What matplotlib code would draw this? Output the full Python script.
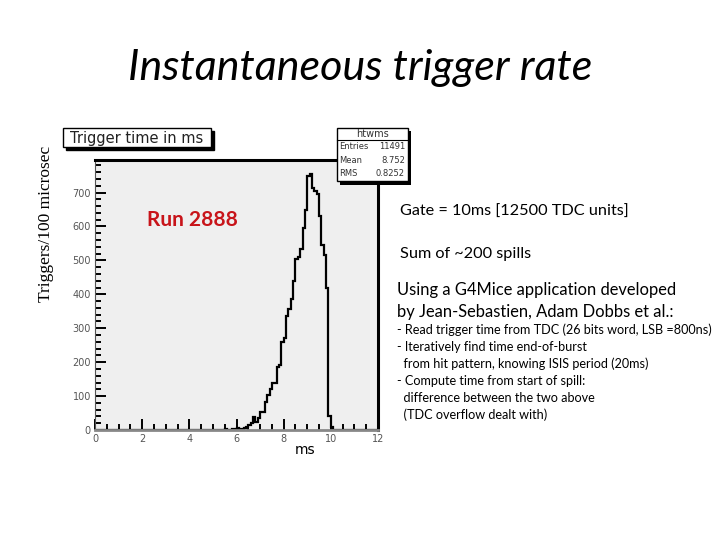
import numpy as np
import matplotlib
matplotlib.use("Agg")
import matplotlib.pyplot as plt
import matplotlib.ticker as mticker
from matplotlib.patches import Rectangle

# histogram: 0.1 ms bins from 0 to 12 ms
bin_edges = np.round(np.arange(0, 12.01, 0.1), 2)
# bins with small counts far from the peak
low_bins = [0.3, 0.4, 2.0, 2.1, 2.2, 2.3, 4.8, 5.5, 5.8]
low_counts = [1, 1, 1, 1, 1, 1, 1, 2, 2]
# main peak, first bin at 5.9 ms
peak_start = 5.9
peak_counts = [2, 6, 2, 3, 5, 10, 15, 22, 37, 25, 35,
               54, 54, 84, 103, 122, 140, 140, 187, 193, 260,
               270, 335, 356, 385, 440, 505, 510, 535, 595, 650,
               748, 755, 713, 705, 695, 630, 545, 515, 420, 40,
               10]

stats_name = "htwms"
stats_rows = [("Entries", "11491"), ("Mean", "8.752"), ("RMS", "0.8252")]

W, H = 720, 540

counts = np.zeros(len(bin_edges) - 1)
for b, c in zip(low_bins, low_counts):
    counts[int(round(b * 10))] = c
i0 = int(round(peak_start * 10))
counts[i0:i0 + len(peak_counts)] = peak_counts


def fx(x):
    return x / W


def fy(y):
    return 1 - y / H


fig = plt.figure(figsize=(7.2, 5.4), dpi=100)
fig.patch.set_facecolor("white")

# slide title
fig.text(fx(360), fy(68), "Instantaneous trigger rate", family="Lato",
         style="italic", fontsize=31, ha="center", va="center")

# histogram frame
ax = fig.add_axes([fx(95), fy(430), fx(378) - fx(95), fy(160) - fy(430)])
ax.set_facecolor("#efefef")
ax.stairs(counts, bin_edges, color="black", linewidth=1.6)
ax.set_xlim(0, 12)
ax.set_ylim(0, 796)
ax.xaxis.set_major_locator(mticker.MultipleLocator(2))
ax.xaxis.set_minor_locator(mticker.MultipleLocator(0.5))
ax.yaxis.set_major_locator(mticker.MultipleLocator(100))
ax.yaxis.set_minor_locator(mticker.MultipleLocator(20))
ax.tick_params(which="both", direction="in", colors="black",
               labelcolor="#555555", labelsize=7, width=1.4)
ax.tick_params(which="major", length=8, pad=3)
ax.tick_params(which="minor", length=4)
for s in ["top", "right"]:
    ax.spines[s].set_linewidth(2.2)
    ax.spines[s].set_color("black")
ax.spines["left"].set_color("#555555")
ax.spines["bottom"].set_color("#888888")
ax.spines["bottom"].set_linewidth(2)

# histogram title box with shadow
fig.add_artist(Rectangle((fx(66), fy(150)), fx(148), fy(131) - fy(150),
                         transform=fig.transFigure, facecolor="black",
                         edgecolor="black"))
fig.add_artist(Rectangle((fx(63), fy(147)), fx(148), fy(128) - fy(147),
                         transform=fig.transFigure, facecolor="white",
                         edgecolor="black", linewidth=1))
fig.text(fx(137), fy(138), "Trigger time in ms", family="DejaVu Sans",
         fontsize=10.5, ha="center", va="center", color="#222222")

# stats box with shadow
fig.add_artist(Rectangle((fx(340), fy(185)), fx(71), fy(131) - fy(185),
                         transform=fig.transFigure, facecolor="black"))
fig.add_artist(Rectangle((fx(337), fy(181)), fx(71), fy(128) - fy(181),
                         transform=fig.transFigure, facecolor="white",
                         edgecolor="black", linewidth=1))
fig.add_artist(plt.Line2D([fx(337), fx(408)], [fy(140), fy(140)],
                          transform=fig.transFigure, color="black",
                          linewidth=0.8))
fig.text(fx(372), fy(134), stats_name, family="DejaVu Sans", fontsize=7,
         ha="center", va="center", color="#333333")
for k, (lab, val) in enumerate(stats_rows):
    yy = fy(147 + 13.5 * k)
    fig.text(fx(339), yy, lab, family="DejaVu Sans", fontsize=6,
             ha="left", va="center", color="#333333")
    fig.text(fx(405), yy, val, family="DejaVu Sans", fontsize=6,
             ha="right", va="center", color="#333333")

# axis labels
fig.text(fx(46), fy(224), "Triggers/100 microsec", family="Liberation Serif",
         fontsize=12.5, rotation=90, ha="center", va="center")
fig.text(fx(305), fy(450), "ms", family="DejaVu Sans", fontsize=10,
         ha="center", va="center")

fig.text(fx(147), fy(220), "Run 2888", family="Lato", weight="bold",
         fontsize=15, color="#c8141a", ha="left", va="center")

# notes on the right
fig.text(fx(400), fy(212), "Gate = 10ms [12500 TDC units]", family="Lato",
         fontsize=11.7, ha="left", va="center")
fig.text(fx(400), fy(254), "Sum of ~200 spills", family="Lato",
         fontsize=11.7, ha="left", va="center")
fig.text(fx(397), fy(290), "Using a G4Mice application developed",
         family="Lato", fontsize=11.9, ha="left", va="center")
fig.text(fx(397), fy(312), "by Jean-Sebastien, Adam Dobbs et al.:",
         family="Lato", fontsize=11.9, ha="left", va="center")

notes = ["- Read trigger time from TDC (26 bits word, LSB =800ns)",
         "- Iteratively find time end-of-burst",
         "  from hit pattern, knowing ISIS period (20ms)",
         "- Compute time from start of spill:",
         "  difference between the two above",
         "  (TDC overflow dealt with)"]
for k, line in enumerate(notes):
    fig.text(fx(397), fy(330 + 17 * k), line, family="Lato",
             fontsize=9.1, ha="left", va="center")

fig.savefig("out.png", dpi=100)
